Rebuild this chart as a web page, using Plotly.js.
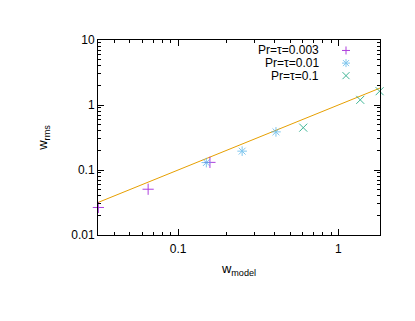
<!DOCTYPE html>
<html>
<head>
<meta charset="utf-8">
<script src="https://cdn.plot.ly/plotly-3.0.1.min.js"></script>
<style>html,body{margin:0;padding:0;background:#fff;}#chart{width:415px;height:321px;}</style>
</head>
<body>
<div id="chart"></div>
<script>
// Series data
const seriesNames = ["Pr=\u03c4=0.003", "Pr=\u03c4=0.01", "Pr=\u03c4=0.1"];
const x003 = [0.0318, 0.065, 0.158];
const y003 = [0.0265, 0.0506, 0.131];
const x001 = [0.150, 0.251, 0.408];
const y001 = [0.130, 0.195, 0.386];
const x01 = [0.604, 1.37, 1.81];
const y01 = [0.448, 1.20, 1.63];
// Reference line w_rms = w_model
const lineX = [0.0316, 1.82];
const lineY = [0.0316, 1.82];
// Tick labels
const yTickVals = [0.01, 0.1, 1, 10];
const yTickText = ["0.01", "0.1", "1", "10"];
const xTickVals = [0.1, 1];
const xTickText = ["0.1", "1"];

const colors = ["#9400d3", "#56b4e9", "#009e73"];
const symbols = ["cross-thin", "asterisk", "x-thin"];
const xs = [x003, x001, x01];
const ys = [y003, y001, y01];

const traces = [{
  x: lineX, y: lineY, mode: "lines", type: "scatter",
  line: {color: "#e69f00", width: 1}, showlegend: false, hoverinfo: "skip"
}];
for (let i = 0; i < 3; i++) {
  traces.push({
    x: xs[i], y: ys[i], mode: "markers", type: "scatter", name: seriesNames[i],
    marker: {symbol: symbols[i], size: 8, color: colors[i], opacity: 0.75, line: {color: colors[i], width: 1}},
    showlegend: false, cliponaxis: false
  });
}

// Plot area geometry
const L = 98, R = 380, T = 39.5, B = 235.3;
const W = R - L, H = B - T;
const px = v => (v - L) / W;
const py = v => (B - v) / H;

const legendRows = [50, 62.7, 75.3];
const legendPaths = [
  "M-4,0H4M0,-4V4",
  "M-4,0H4M0,-4V4M-3,-3L3,3M-3,3L3,-3",
  "M-3.5,-3.5L3.5,3.5M-3.5,3.5L3.5,-3.5"
];
const annotations = [];
const shapes = [];
for (let i = 0; i < 3; i++) {
  annotations.push({
    xref: "paper", yref: "paper", x: px(321), y: py(legendRows[i]),
    xanchor: "right", yanchor: "middle", text: seriesNames[i], showarrow: false,
    font: {family: "Liberation Sans, Arial, sans-serif", size: 12, color: "#000"}
  });
  shapes.push({
    type: "path", xref: "paper", yref: "paper", xsizemode: "pixel", ysizemode: "pixel",
    xanchor: px(346), yanchor: py(legendRows[i]), path: legendPaths[i],
    opacity: 0.75, line: {color: colors[i], width: 1}
  });
}

const axisCommon = {
  type: "log", showgrid: false, zeroline: false, showline: true, linecolor: "#000", linewidth: 1,
  mirror: "allticks", ticks: "inside", ticklen: 6, tickcolor: "#000", tickwidth: 1,
  minor: {ticks: "inside", ticklen: 3, tickcolor: "#000", dtick: "D1", showgrid: false},
  tickfont: {family: "Liberation Sans, Arial, sans-serif", size: 12, color: "#000"}
};

const layout = {
  width: 415, height: 321,
  margin: {l: L, r: 415 - R, t: T, b: 321 - B},
  paper_bgcolor: "#fff", plot_bgcolor: "#fff",
  showlegend: false,
  xaxis: Object.assign({}, axisCommon, {
    range: [-1.5, 0.26], tickvals: xTickVals, ticktext: xTickText, ticklabelstandoff: 3,
    title: {text: "w<sub>model</sub>", standoff: 8, font: {family: "Liberation Sans, Arial, sans-serif", size: 13, color: "#000"}}
  }),
  yaxis: Object.assign({}, axisCommon, {
    range: [-2, 1], tickvals: yTickVals, ticktext: yTickText,
    title: {text: "w<sub>rms</sub>", standoff: 20, font: {family: "Liberation Sans, Arial, sans-serif", size: 13, color: "#000"}}
  }),
  annotations: annotations,
  shapes: shapes
};

Plotly.newPlot("chart", traces, layout, {displayModeBar: false, staticPlot: true});
</script>
</body>
</html>
